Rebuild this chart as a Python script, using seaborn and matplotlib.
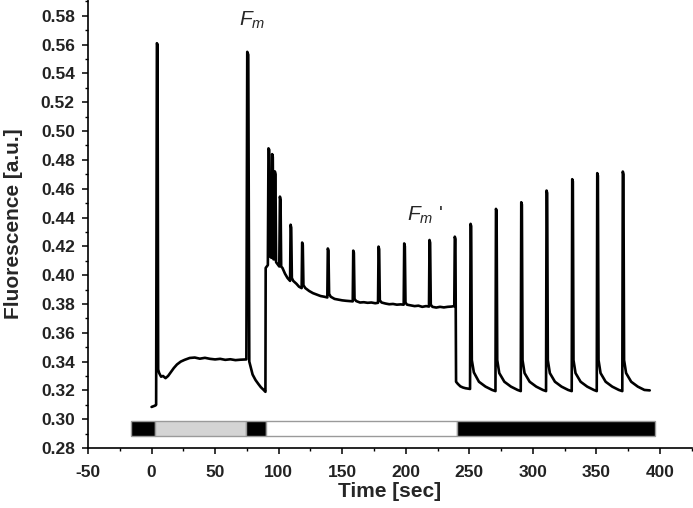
import matplotlib
matplotlib.use("Agg")
import matplotlib.pyplot as plt
import numpy as np
import pandas as pd
import seaborn as sns
from matplotlib.ticker import MultipleLocator, FormatStrFormatter

# ---------------- data ----------------
# Phase 1: dark, first saturating pulse, low actinic light, Fm pulse, dark gap
p1_t = [0.0, 1.5, 3.0, 3.6, 4.2, 4.7, 5.2, 6.0, 7.5, 9.0, 11.0, 13.0, 15.0,
        17.5, 20.0, 23.0, 26.0, 30.0, 34.0, 38.0, 42.0, 46.0, 50.0, 54.0,
        58.0, 62.0, 66.0, 70.0, 74.6, 75.3, 76.1, 76.9, 77.9, 79.5, 81.8,
        84.0, 86.0, 88.0, 89.6]
p1_f = [0.3085, 0.3090, 0.3095, 0.3100, 0.5610, 0.5600, 0.3345, 0.3320,
        0.3295, 0.3300, 0.3285, 0.3300, 0.3325, 0.3355, 0.3380, 0.3400,
        0.3412, 0.3425, 0.3428, 0.3420, 0.3426, 0.3419, 0.3415, 0.3419,
        0.3412, 0.3416, 0.3410, 0.3413, 0.3415, 0.5550, 0.5530, 0.3400,
        0.3365, 0.3310, 0.3272, 0.3245, 0.3222, 0.3205, 0.3190]

# Phase 2: high actinic light with saturating pulses
p2_t = [89.8, 91.5, 92.0, 92.6, 93.2, 94.4, 94.9, 95.4, 95.9, 96.6, 97.0,
        97.5, 98.0, 100.5, 101.0, 101.5, 102.0, 103.0, 105.0, 107.0, 109.0,
        109.4, 109.9, 110.4, 111.5, 114.0, 116.0, 118.1, 118.5, 119.0, 119.5,
        121.0, 124.0, 127.0, 130.0, 133.0, 136.0, 138.3, 138.7, 139.2, 139.7,
        141.0, 144.0, 147.0, 150.0, 153.0, 156.0, 158.3, 158.7, 159.2, 159.7,
        161.0, 164.0, 167.0, 170.0, 173.0, 176.0, 178.2, 178.6, 179.1, 179.6,
        181.0, 184.0, 187.0, 190.0, 193.0, 196.0, 198.4, 198.8, 199.3, 199.8,
        201.0, 204.0, 207.0, 210.0, 213.0, 216.0, 218.3, 218.7, 219.2, 219.7,
        221.0, 224.0, 227.0, 230.0, 233.0, 236.0, 238.2, 238.6, 239.1]
p2_f = [0.4050, 0.4070, 0.4880, 0.4870, 0.4130, 0.4120, 0.4840, 0.4820,
        0.4110, 0.4110, 0.4720, 0.4700, 0.4090, 0.4060, 0.4545, 0.4520,
        0.4060, 0.4050, 0.4010, 0.3980, 0.3960, 0.4350, 0.4330, 0.3980,
        0.3960, 0.3940, 0.3920, 0.3910, 0.4226, 0.4210, 0.3930, 0.3910,
        0.3890, 0.3875, 0.3865, 0.3855, 0.3850, 0.3845, 0.4185, 0.4170,
        0.3870, 0.3850, 0.3835, 0.3830, 0.3825, 0.3822, 0.3820, 0.3818,
        0.4170, 0.4155, 0.3835, 0.3820, 0.3810, 0.3812, 0.3808, 0.3810,
        0.3805, 0.3808, 0.4198, 0.4180, 0.3825, 0.3810, 0.3803, 0.3798,
        0.3800, 0.3795, 0.3797, 0.3795, 0.4220, 0.4200, 0.3810, 0.3795,
        0.3790, 0.3785, 0.3788, 0.3780, 0.3785, 0.3782, 0.4244, 0.4225,
        0.3795, 0.3780, 0.3775, 0.3780, 0.3776, 0.3780, 0.3782, 0.3785,
        0.4267, 0.4250]

# Phase 3: darkness with saturating pulses (recovery)
p3_t = [239.6, 241.0, 243.0, 245.0, 247.0, 249.0, 250.6,
        251.0, 251.5, 252.0, 253.6, 257.6, 262.8, 268.0, 270.6,
        271.0, 271.5, 272.0, 273.6, 277.6, 282.8, 288.0, 290.5,
        290.9, 291.4, 291.9, 293.5, 297.5, 302.7, 307.9, 310.4,
        310.8, 311.3, 311.8, 313.4, 317.4, 322.6, 327.8, 330.6,
        331.0, 331.5, 332.0, 333.6, 337.6, 342.8, 348.0, 350.3,
        350.7, 351.2, 351.7, 353.3, 357.3, 362.5, 367.7, 370.4,
        370.8, 371.3, 371.8, 373.4, 377.4, 382.6, 387.8, 392.0]
p3_f = [0.3260, 0.3245, 0.3228, 0.3220, 0.3215, 0.3212, 0.3210,
        0.4356, 0.4340, 0.3410, 0.3325, 0.3260, 0.3226, 0.3203, 0.3195,
        0.4460, 0.4445, 0.3410, 0.3320, 0.3260, 0.3226, 0.3203, 0.3195,
        0.4506, 0.4490, 0.3410, 0.3320, 0.3260, 0.3226, 0.3203, 0.3195,
        0.4587, 0.4570, 0.3410, 0.3320, 0.3260, 0.3226, 0.3203, 0.3195,
        0.4666, 0.4650, 0.3410, 0.3320, 0.3260, 0.3226, 0.3203, 0.3195,
        0.4708, 0.4690, 0.3410, 0.3320, 0.3260, 0.3226, 0.3203, 0.3195,
        0.4719, 0.4700, 0.3410, 0.3320, 0.3260, 0.3226, 0.3203, 0.3200]

# Light regime bar under the trace
bar_starts = [-16, 3, 74, 90, 240]
bar_ends = [3, 74, 90, 240, 396]
bar_colors = ["black", "#d4d4d4", "black", "white", "black"]
bar_low, bar_high = 0.2885, 0.2990

x_ticks = [-50, 0, 50, 100, 150, 200, 250, 300, 350, 400]
x_label = "Time [sec]"
y_label = "Fluorescence [a.u.]"

# ---------------- plotting ----------------
sns.set_style("ticks")
plt.rcParams["font.family"] = ["Liberation Sans", "DejaVu Sans"]
plt.rcParams["axes.unicode_minus"] = False
plt.rcParams["mathtext.fontset"] = "custom"
plt.rcParams["mathtext.it"] = "Liberation Sans:italic"
plt.rcParams["mathtext.rm"] = "Liberation Sans"

fig = plt.figure(figsize=(6.93, 5.08), dpi=100)
ax = fig.add_axes([0.127, 0.1181, 0.8711, 0.8819])

df = pd.DataFrame({
    "t": p1_t + p2_t + p3_t,
    "f": p1_f + p2_f + p3_f,
})
sns.lineplot(data=df, x="t", y="f", estimator=None, sort=False,
             color="black", linewidth=1.9, ax=ax)

widths = [e - s for s, e in zip(bar_starts, bar_ends)]
ax.barh(y=(bar_low + bar_high) / 2, width=widths, left=bar_starts,
        height=bar_high - bar_low, color=bar_colors, edgecolor="#9a9a9a",
        linewidth=1.0, zorder=3)

ax.set_xlim(-50, 425)
ax.set_ylim(0.28, 0.591)
ax.set_xticks(x_ticks)
ax.xaxis.set_minor_locator(MultipleLocator(25))
ax.yaxis.set_major_locator(MultipleLocator(0.02))
ax.yaxis.set_minor_locator(MultipleLocator(0.01))
ax.yaxis.set_major_formatter(FormatStrFormatter("%.2f"))

sns.despine(ax=ax)
for s in ["left", "bottom"]:
    ax.spines[s].set_linewidth(1.2)
    ax.spines[s].set_color("black")
ax.tick_params(which="major", direction="out", length=4.5, width=1.1,
               colors="black", labelsize=12.5)
ax.tick_params(axis="x", which="major", pad=8)
ax.tick_params(axis="y", which="major", pad=5)
ax.tick_params(which="minor", direction="out", length=2.5, width=1.0,
               colors="black")
for lab in ax.get_xticklabels() + ax.get_yticklabels():
    lab.set_fontweight("bold")
    lab.set_color("#222222")

ax.set_xlabel(x_label, fontsize=15, fontweight="bold", labelpad=1)
ax.set_ylabel(y_label, fontsize=15, fontweight="bold", labelpad=13)

ax.text(79.5, 0.577, r"$F_m$", ha="center", va="center", fontsize=15)
ax.text(215.5, 0.4418, r"$F_m$ '", ha="center", va="center", fontsize=15)

fig.savefig("out.png", dpi=100)
